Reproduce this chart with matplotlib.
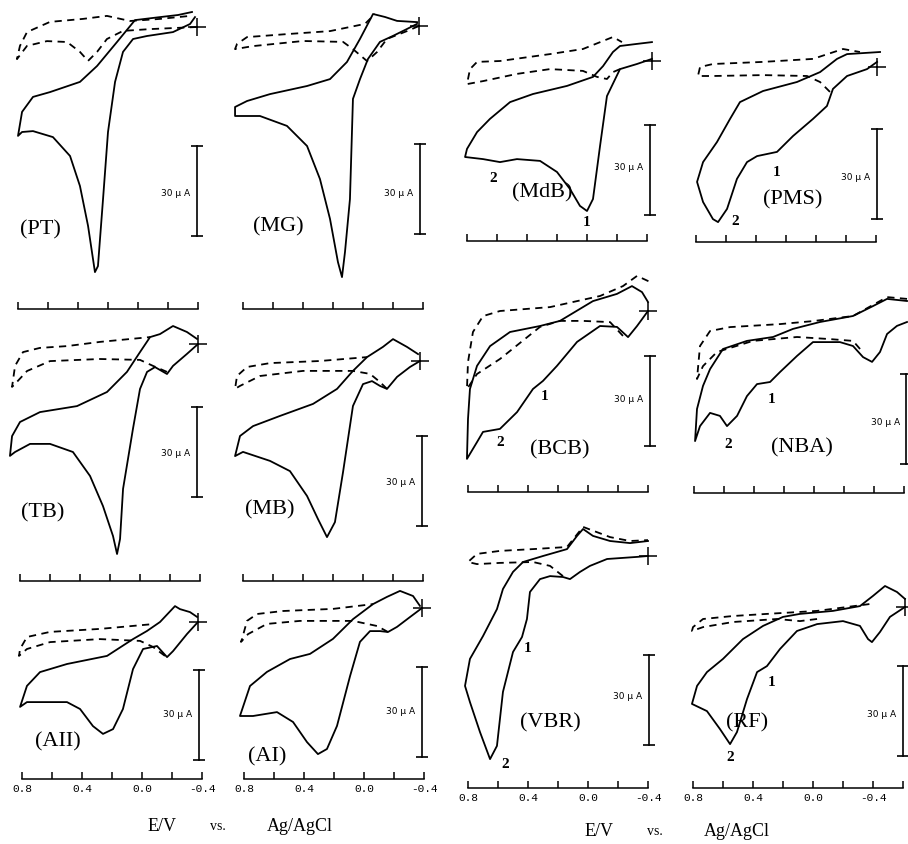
import matplotlib.pyplot as plt

W, H = 908, 845
PX_PER_V = 150.0   # 0.2 V per 30 px on the tick axes
PX_PER_UA = 3.0    # 30 uA scale bar is ~90 px

# ---- data: potential E (V vs Ag/AgCl), current I (uA, 0 at start point) ----
pt_solid_E = [-0.36, -0.267, -0.147, 0.02, 0.14, 0.273, 0.387, 0.587, 0.70, 0.773, 0.80, 0.773, 0.70, 0.567,
              0.453, 0.387, 0.333, 0.287, 0.267, 0.233, 0.20, 0.153, 0.10, 0.033, -0.06, -0.233, -0.347, -0.38]
pt_solid_I = [5.0, 4.0, 3.3, 2.3, -5.0, -13.0, -18.3, -21.7, -23.3, -28.3, -36.3, -35.0, -34.7, -36.7,
              -43.0, -53.0, -66.3, -81.7, -79.7, -57.3, -35.0, -18.3, -8.3, -4.0, -3.0, -1.7, 1.0, 3.3]
pt_dash_E = [-0.393, -0.08, 0.10, 0.207, 0.273, 0.333, 0.387, 0.473, 0.607, 0.74, 0.807, 0.787, 0.74, 0.587,
             0.367, 0.207, 0.053, -0.147, -0.347]
pt_dash_I = [0.0, -0.7, -1.3, -4.0, -8.3, -11.3, -8.3, -5.0, -4.7, -6.3, -10.7, -6.3, -1.7, 1.7,
             2.7, 3.7, 2.0, 2.7, 3.7]

mg_solid_E = [-0.36, -0.227, -0.147, -0.067, 0.02, 0.107, 0.22, 0.373, 0.62, 0.773, 0.853, 0.853, 0.687, 0.507,
              0.373, 0.287, 0.22, 0.167, 0.14, 0.12, 0.087, 0.067, 0.02, -0.033, -0.113, -0.20, -0.293, -0.36]
mg_solid_I = [1.3, 1.7, 3.0, 4.0, -4.3, -12.0, -17.7, -20.0, -22.7, -25.0, -27.0, -30.0, -30.0, -33.3,
              -40.0, -51.0, -64.3, -78.7, -83.7, -75.3, -57.7, -24.3, -17.7, -11.0, -5.3, -3.3, -1.0, 0.7]
mg_dash_E = [-0.373, -0.293, -0.16, -0.093, -0.027, 0.067, 0.133, 0.40, 0.733, 0.853, 0.84, 0.773, 0.507,
             0.22, -0.013, -0.08]
mg_dash_I = [0.0, -1.7, -4.3, -8.7, -11.7, -7.7, -5.3, -5.0, -6.7, -7.7, -6.0, -3.7, -2.7, -1.7, 0.7, 4.0]

tb_solid_E = [-0.38, -0.313, -0.22, -0.133, -0.067, 0.0, 0.087, 0.22, 0.42, 0.667, 0.80, 0.853, 0.867, 0.833,
              0.733, 0.60, 0.447, 0.333, 0.247, 0.18, 0.153, 0.133, 0.113, 0.047, 0.0, -0.047, -0.10, -0.18,
              -0.22, -0.313, -0.387]
tb_solid_I = [1.7, 4.0, 6.0, 3.3, 2.3, -2.7, -9.3, -16.0, -20.7, -22.7, -26.0, -30.7, -37.3, -36.0,
              -33.3, -33.3, -36.0, -44.0, -54.0, -64.0, -70.0, -65.0, -48.3, -28.3, -15.0, -9.3, -7.7, -10.0,
              -7.3, -3.3, 0.0]
tb_dash_E = [-0.18, -0.087, 0.0, 0.267, 0.60, 0.753, 0.833, 0.853, 0.833, 0.78, 0.667, 0.487, 0.267, -0.067]
tb_dash_I = [-9.3, -7.3, -5.3, -5.0, -5.7, -9.0, -13.3, -14.3, -7.3, -2.7, -1.3, -0.7, 0.7, 2.3]

mb_solid_E = [-0.367, -0.293, -0.20, -0.133, -0.027, 0.067, 0.173, 0.333, 0.553, 0.733, 0.82, 0.853, 0.80, 0.62,
              0.487, 0.373, 0.30, 0.24, 0.187, 0.133, 0.067, 0.0, -0.06, -0.113, -0.16, -0.227, -0.313, -0.38]
mb_solid_I = [2.3, 4.7, 7.3, 4.7, 1.3, -3.3, -9.3, -14.3, -18.3, -21.7, -25.0, -31.7, -30.3, -33.3,
              -36.7, -45.0, -52.7, -58.7, -53.7, -37.0, -15.0, -7.7, -6.7, -8.3, -9.3, -5.3, -2.0, 0.0]
mb_dash_E = [-0.16, -0.113, -0.047, 0.067, 0.40, 0.687, 0.82, 0.853, 0.84, 0.773, 0.62, 0.287, -0.027]
mb_dash_I = [-9.3, -7.0, -4.3, -3.3, -3.3, -5.0, -8.3, -9.3, -5.0, -2.0, -0.7, 0.0, 1.3]

a2_solid_E = [-0.367, -0.32, -0.253, -0.22, -0.12, -0.033, 0.06, 0.233, 0.50, 0.68, 0.767, 0.813, 0.767, 0.50,
              0.413, 0.327, 0.26, 0.193, 0.127, 0.06, -0.007, -0.10, -0.167, -0.207, -0.30, -0.373]
a2_solid_I = [1.7, 3.3, 4.3, 5.3, 0.0, -3.0, -5.7, -11.3, -14.0, -16.7, -21.3, -28.3, -26.7, -26.7,
              -29.0, -34.7, -37.3, -35.7, -29.0, -15.7, -9.0, -8.0, -11.7, -9.7, -4.0, 0.0]
a2_dash_E = [-0.153, -0.073, 0.013, 0.28, 0.613, 0.767, 0.82, 0.813, 0.767, 0.613, 0.28, -0.073]
a2_dash_I = [-11.3, -8.3, -6.3, -5.7, -6.7, -9.0, -11.3, -9.0, -5.0, -3.3, -2.3, -0.7]

a1_solid_E = [-0.373, -0.327, -0.24, -0.153, -0.06, 0.073, 0.207, 0.36, 0.493, 0.647, 0.76, 0.827, 0.74, 0.58,
              0.473, 0.38, 0.307, 0.247, 0.18, 0.093, 0.027, -0.04, -0.107, -0.16, -0.22, -0.307, -0.387]
a1_solid_I = [0.7, 4.0, 5.7, 3.7, 1.3, -3.7, -10.3, -15.3, -17.0, -21.3, -26.0, -36.0, -36.0, -34.7,
              -38.0, -44.7, -48.7, -47.0, -39.3, -22.7, -11.3, -7.7, -7.7, -8.0, -6.3, -3.0, 0.0]
a1_dash_E = [-0.16, -0.087, 0.073, 0.427, 0.647, 0.773, 0.82, 0.813, 0.78, 0.713, 0.54, 0.207, -0.06]
a1_dash_I = [-8.0, -6.0, -4.3, -4.3, -5.3, -8.7, -11.3, -10.3, -4.3, -2.0, -1.0, -0.3, 1.3]

mdb_solid_E = [-0.433, -0.333, -0.22, -0.173, -0.107, -0.04, 0.133, 0.36, 0.513, 0.647, 0.733, 0.80, 0.813,
               0.693, 0.58, 0.467, 0.313, 0.20, 0.113, 0.047, 0.0, -0.04, -0.087, -0.133, -0.22, -0.333, -0.433]
mdb_solid_I = [6.3, 5.7, 5.0, 3.0, -1.7, -5.3, -8.3, -11.0, -13.7, -19.3, -23.7, -29.3, -32.0,
               -32.7, -33.7, -32.7, -33.3, -37.0, -42.7, -48.3, -50.0, -46.0, -28.3, -11.7, -2.7, -1.0, 0.7]
mdb_dash_E = [-0.22, -0.173, -0.133, -0.067, 0.027, 0.247, 0.467, 0.693, 0.80, 0.78, 0.733, 0.58, 0.247,
              0.027, -0.173, -0.233]
mdb_dash_I = [-2.7, -3.7, -6.0, -5.3, -3.3, -2.7, -4.3, -6.7, -7.7, -2.7, -0.3, 0.0, 2.3, 4.0, 8.0, 6.3]

pms_solid_E = [-0.427, -0.207, -0.14, -0.027, 0.127, 0.353, 0.507, 0.573, 0.66, 0.753, 0.793, 0.753, 0.687,
               0.653, 0.593, 0.527, 0.46, 0.393, 0.26, 0.153, 0.02, -0.073, -0.113, -0.207, -0.34, -0.407]
pms_solid_I = [5.0, 4.3, 2.7, -1.7, -5.0, -8.0, -11.7, -17.3, -25.0, -31.7, -38.3, -45.0, -50.7,
               -51.7, -47.3, -37.3, -31.7, -29.7, -28.3, -23.0, -17.3, -13.0, -7.3, -3.0, -0.7, 1.7]
pms_dash_E = [-0.093, -0.027, 0.06, 0.353, 0.687, 0.787, 0.773, 0.687, 0.353, 0.02, -0.18, -0.293]
pms_dash_I = [-8.3, -5.0, -3.0, -2.7, -3.0, -3.0, 0.0, 1.0, 1.7, 2.7, 6.0, 5.0]

bcb_solid_E = [-0.40, -0.36, -0.293, -0.193, -0.033, 0.187, 0.32, 0.52, 0.653, 0.74, 0.787, 0.80, 0.807,
               0.74, 0.70, 0.587, 0.473, 0.367, 0.30, 0.207, 0.073, -0.08, -0.193, -0.267, -0.327, -0.40]
bcb_solid_I = [3.0, 6.3, 8.3, 5.7, 3.3, -3.3, -5.0, -7.0, -11.7, -18.3, -26.0, -36.0, -49.3,
               -43.7, -40.3, -39.3, -33.7, -26.0, -23.3, -18.3, -10.3, -5.0, -5.3, -8.7, -5.0, 0.0]
bcb_dash_E = [-0.233, -0.147, 0.033, 0.187, 0.32, 0.587, 0.74, 0.807, 0.80, 0.767, 0.70, 0.587, 0.253,
              -0.08, -0.233, -0.327, -0.413]
bcb_dash_I = [-8.3, -3.7, -3.3, -3.3, -5.3, -16.0, -21.0, -26.0, -17.0, -7.0, -1.7, 0.0, 1.3,
              5.0, 8.3, 11.7, 9.7]

nba_solid_E = [-0.62, -0.487, -0.393, -0.26, -0.04, 0.14, 0.273, 0.447, 0.607, 0.693, 0.74, 0.78, 0.793,
               0.76, 0.693, 0.627, 0.58, 0.513, 0.447, 0.38, 0.293, 0.227, 0.113, 0.007, -0.173, -0.26,
               -0.327, -0.387, -0.44, -0.487, -0.553, -0.62]
nba_solid_I = [7.0, 7.7, 5.3, 2.0, 0.0, -2.3, -5.0, -6.3, -9.0, -15.7, -21.3, -29.0, -39.7,
               -34.7, -30.3, -31.3, -34.7, -31.3, -24.7, -20.7, -20.0, -16.7, -11.3, -6.7, -6.7, -8.0,
               -11.7, -13.3, -10.0, -4.0, -1.3, 0.0]
nba_dash_E = [-0.307, -0.26, -0.107, 0.113, 0.407, 0.647, 0.74, 0.78, 0.76, 0.693, 0.56, 0.227, 0.007,
              -0.26, -0.487, -0.62]
nba_dash_I = [-9.0, -6.3, -5.7, -5.0, -6.3, -10.0, -14.7, -19.0, -8.0, -3.0, -1.7, -0.7, 0.3, 2.0, 8.3, 7.7]

vbr_solid_E = [-0.40, -0.28, -0.147, -0.033, 0.033, 0.073, 0.14, 0.30, 0.433, 0.50, 0.567, 0.607, 0.70,
               0.787, 0.82, 0.787, 0.72, 0.653, 0.607, 0.567, 0.50, 0.44, 0.407, 0.387, 0.32, 0.253,
               0.167, 0.12, 0.053, -0.013, -0.127, -0.327, -0.40]
vbr_solid_I = [5.0, 4.3, 5.0, 6.7, 9.0, 6.7, 2.3, 0.0, -2.0, -5.3, -11.0, -17.7, -26.7,
               -34.3, -43.3, -48.7, -58.7, -67.7, -63.3, -45.3, -32.0, -27.0, -21.0, -12.0, -7.7, -6.7,
               -7.0, -7.7, -5.3, -3.3, -1.0, -0.3, 0.0]
vbr_dash_E = [0.167, 0.253, 0.367, 0.587, 0.74, 0.80, 0.74, 0.587, 0.367, 0.14, 0.033, -0.147, -0.28, -0.40]
vbr_dash_I = [-6.7, -3.3, -2.0, -2.3, -2.7, -2.0, 0.7, 1.7, 2.3, 3.0, 9.7, 6.3, 5.0, 5.3]

rf_solid_E = [-0.613, -0.56, -0.48, -0.40, -0.313, -0.133, 0.087, 0.20, 0.333, 0.467, 0.60, 0.707, 0.773,
              0.807, 0.707, 0.62, 0.553, 0.507, 0.44, 0.373, 0.307, 0.22, 0.107, -0.027, -0.20, -0.313,
              -0.367, -0.393, -0.447, -0.513, -0.613]
rf_solid_I = [2.7, 5.0, 7.0, 3.7, 0.3, -1.3, -2.3, -3.3, -6.3, -10.7, -17.3, -21.7, -26.3,
              -32.3, -34.7, -40.7, -45.7, -41.7, -30.7, -21.7, -19.7, -14.0, -8.0, -5.7, -4.7, -6.3,
              -10.7, -11.7, -8.3, -3.3, 0.0]
rf_dash_E = [-0.027, 0.087, 0.24, 0.533, 0.733, 0.807, 0.80, 0.733, 0.533, 0.307, -0.027, -0.38]
rf_dash_I = [-4.0, -4.7, -4.0, -5.0, -6.7, -8.0, -6.7, -4.0, -3.0, -2.3, -1.3, 1.0]

# start potential of each sweep (the "+" mark), None where it is cut off
start_E = {'PT': -0.393, 'MG': -0.373, 'TB': -0.387, 'MB': -0.38, 'AII': -0.373, 'AI': -0.387,
           'MdB': -0.433, 'PMS': -0.407, 'BCB': -0.40, 'NBA': None, 'VBR': -0.40, 'RF': -0.613}

tick_labels = ['0.8', '', '0.4', '', '0.0', '', '-0.4', '']

# ---- layout in pixels: x of 0.8 V tick, n ticks, axis y, y of zero current,
#      scale bar x / bottom y, label pos, "30 uA" pos, peak numbers, tick labels shown ----
panels = [
    ('PT', pt_solid_E, pt_solid_I, pt_dash_E, pt_dash_I,
     dict(x08=18, nt=7, ay=310, y0=28, bx=197, bb=237, lab=(40, 230), ua=(190, 193), nums=[], tl=False)),
    ('MG', mg_solid_E, mg_solid_I, mg_dash_E, mg_dash_I,
     dict(x08=243, nt=7, ay=310, y0=27, bx=420, bb=235, lab=(278, 227), ua=(413, 193), nums=[], tl=False)),
    ('TB', tb_solid_E, tb_solid_I, tb_dash_E, tb_dash_I,
     dict(x08=20, nt=7, ay=582, y0=345, bx=197, bb=498, lab=(43, 513), ua=(190, 453), nums=[], tl=False)),
    ('MB', mb_solid_E, mb_solid_I, mb_dash_E, mb_dash_I,
     dict(x08=243, nt=7, ay=582, y0=362, bx=422, bb=527, lab=(270, 510), ua=(415, 483), nums=[], tl=False)),
    ('AII', a2_solid_E, a2_solid_I, a2_dash_E, a2_dash_I,
     dict(x08=22, nt=7, ay=780, y0=623, bx=199, bb=761, lab=(58, 742), ua=(192, 715), nums=[], tl=True)),
    ('AI', a1_solid_E, a1_solid_I, a1_dash_E, a1_dash_I,
     dict(x08=244, nt=7, ay=780, y0=609, bx=422, bb=758, lab=(267, 757), ua=(415, 712), nums=[], tl=True)),
    ('MdB', mdb_solid_E, mdb_solid_I, mdb_dash_E, mdb_dash_I,
     dict(x08=467, nt=7, ay=242, y0=62, bx=650, bb=216, lab=(542, 193), ua=(643, 167),
          nums=[('1', 587, 223), ('2', 493, 178)], tl=False)),
    ('PMS', pms_solid_E, pms_solid_I, pms_dash_E, pms_dash_I,
     dict(x08=696, nt=7, ay=243, y0=68, bx=877, bb=220, lab=(793, 200), ua=(870, 177),
          nums=[('1', 777, 173), ('2', 735, 222)], tl=False)),
    ('BCB', bcb_solid_E, bcb_solid_I, bcb_dash_E, bcb_dash_I,
     dict(x08=468, nt=7, ay=493, y0=312, bx=650, bb=447, lab=(560, 450), ua=(643, 400),
          nums=[('1', 545, 397), ('2', 500, 443)], tl=False)),
    ('NBA', nba_solid_E, nba_solid_I, nba_dash_E, nba_dash_I,
     dict(x08=694, nt=8, ay=494, y0=323, bx=906, bb=465, lab=(802, 448), ua=(900, 423),
          nums=[('1', 772, 400), ('2', 728, 445)], tl=False)),
    ('VBR', vbr_solid_E, vbr_solid_I, vbr_dash_E, vbr_dash_I,
     dict(x08=468, nt=7, ay=789, y0=557, bx=649, bb=746, lab=(550, 723), ua=(642, 697),
          nums=[('1', 528, 649), ('2', 505, 765)], tl=True)),
    ('RF', rf_solid_E, rf_solid_I, rf_dash_E, rf_dash_I,
     dict(x08=693, nt=8, ay=789, y0=608, bx=903, bb=757, lab=(747, 723), ua=(896, 715),
          nums=[('1', 772, 682), ('2', 730, 758)], tl=True)),
]

SERIF = ['Liberation Serif', 'DejaVu Serif']
MONO = ['Liberation Mono', 'DejaVu Sans Mono']


def fx(x):
    return x / W


def fy(y):
    return 1 - y / H


fig = plt.figure(figsize=(W / 100, H / 100), dpi=100)
fig.patch.set_facecolor('white')

for name, sE, sI, dE, dI, L in panels:
    span = 0.2 * (L['nt'] - 1)
    hpx = 290
    ax = fig.add_axes([fx(L['x08']), fy(L['ay']), span * PX_PER_V / W, hpx / H])
    ax.set_xlim(0.8, 0.8 - span)
    ybot = (L['y0'] - L['ay']) / PX_PER_UA
    ax.set_ylim(ybot, ybot + hpx / PX_PER_UA)
    ax.patch.set_alpha(0)
    for s in ('top', 'left', 'right'):
        ax.spines[s].set_visible(False)
    ax.spines['bottom'].set_linewidth(1.1)
    ticks = [round(0.8 - 0.2 * i, 1) for i in range(L['nt'])]
    ax.set_xticks(ticks)
    if L['tl']:
        ax.set_xticklabels(tick_labels[:L['nt']], fontfamily=MONO, fontsize=8)
    else:
        ax.set_xticklabels([''] * L['nt'])
    ax.tick_params(axis='x', direction='in', length=5, width=1.1, pad=3)
    ax.set_yticks([])

    ax.plot(sE, sI, color='black', lw=1.3, clip_on=False)
    ax.plot(dE, dI, color='black', lw=1.3, ls=(0, (4, 3)), clip_on=False)
    if start_E[name] is not None:
        ax.plot(start_E[name], 0, marker='+', ms=13, mew=1.1, color='black', clip_on=False)

    # 30 uA scale bar
    bE = 0.8 - (L['bx'] - L['x08']) / PX_PER_V
    bI = (L['y0'] - L['bb']) / PX_PER_UA
    ax.plot([bE, bE], [bI, bI + 30], color='black', lw=1.2, clip_on=False)
    ax.plot([bE, bE], [bI, bI + 30], ls='none', marker='_', ms=8, mew=1.2, color='black', clip_on=False)

    lab = '(' + name + ')'
    fig.text(fx(L['lab'][0]), fy(L['lab'][1]), lab, ha='center', va='center',
             fontfamily=SERIF, fontsize=16)
    fig.text(fx(L['ua'][0]), fy(L['ua'][1]), '30 μ A', ha='right', va='center',
             fontfamily=['DejaVu Sans'], fontsize=6.5)
    for t, x, y in L['nums']:
        fig.text(fx(x), fy(y), t, ha='center', va='center', fontfamily=SERIF,
                 fontsize=11, fontweight='bold')

# x-axis captions under each half
for cx, cy in [(162, 827), (599, 832)]:
    fig.text(fx(cx), fy(cy), 'E/V', ha='center', va='center', fontfamily=SERIF, fontsize=13)
    fig.text(fx(cx + 56), fy(cy), 'vs.', ha='center', va='center', fontfamily=SERIF, fontsize=10)
    fig.text(fx(cx + 138), fy(cy), 'Ag/AgCl', ha='center', va='center', fontfamily=SERIF, fontsize=13)

fig.savefig('out.png', dpi=100, facecolor='white')
